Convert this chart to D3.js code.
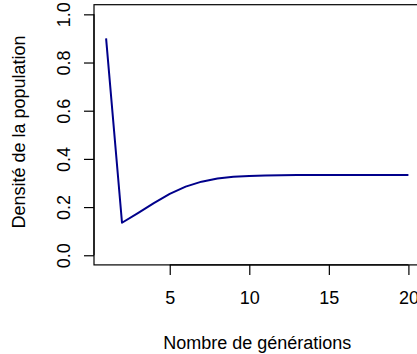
<!DOCTYPE html>
<html>
<head>
<meta charset="utf-8">
<script src="https://cdn.jsdelivr.net/npm/d3@7"></script>
<style>
  html, body { margin: 0; padding: 0; background: #fff; }
  svg { display: block; }
  text { font-family: "Liberation Sans", Arial, Helvetica, sans-serif; fill: #000; }
</style>
</head>
<body>
<svg id="chart" width="417" height="354"></svg>
<script>
// Population density over successive generations
const generations = [1, 2, 3, 4, 5, 6, 7, 8, 9, 10, 11, 12, 13, 14, 15, 16, 17, 18, 19, 20];
const density = [0.9, 0.135, 0.1752, 0.2167, 0.2546, 0.2847, 0.3055, 0.3182, 0.3254, 0.3293,
                 0.3313, 0.3323, 0.3328, 0.3331, 0.3332, 0.3333, 0.3333, 0.3333, 0.3333, 0.3333];
const xTicks = [5, 10, 15, 20];
const yTicks = [0.0, 0.2, 0.4, 0.6, 0.8, 1.0];
const xLabel = "Nombre de générations";
const yLabel = "Densité de la population";

const fontSize = 18;
const svg = d3.select("#chart");
const plot = { left: 94, right: 420.5, top: 4.7, bottom: 264.9 };

// 4% padding on each side of the data range, as in base graphics
const xPad = (20 - 1) * 0.04;
const x = d3.scaleLinear().domain([1 - xPad, 20 + xPad]).range([plot.left, plot.right]);
const y = d3.scaleLinear().domain([-0.04, 1.04]).range([plot.bottom, plot.top]);

// Frame
svg.append("rect")
  .attr("x", plot.left).attr("y", plot.top)
  .attr("width", plot.right - plot.left).attr("height", plot.bottom - plot.top)
  .attr("fill", "none").attr("stroke", "#000").attr("stroke-width", 1.2);

// Data line
const line = d3.line().x((d, i) => x(generations[i])).y(d => y(d));
svg.append("path")
  .datum(density)
  .attr("d", line)
  .attr("fill", "none")
  .attr("stroke", "#00008B")
  .attr("stroke-width", 2)
  .attr("stroke-linejoin", "round");

// Bottom axis
const xAxis = d3.axisBottom(x).tickValues(xTicks).tickSize(10).tickFormat(d3.format("d"));
const gx = svg.append("g").attr("transform", `translate(0,${plot.bottom})`).call(xAxis);
gx.select(".domain").attr("d", `M${x(5)},0H${x(20)}`).attr("stroke-width", 1.2);
gx.selectAll(".tick line").attr("stroke-width", 1.2);
gx.selectAll("text")
  .attr("font-size", fontSize).attr("font-family", null)
  .attr("y", 304 - plot.bottom).attr("dy", null);

// Left axis with rotated labels
const yAxis = d3.axisLeft(y).tickValues(yTicks).tickSize(10).tickFormat(d3.format(".1f"));
const gy = svg.append("g").attr("transform", `translate(${plot.left},0)`).call(yAxis);
gy.select(".domain").attr("d", `M0,${y(0)}V${y(1)}`).attr("stroke-width", 1.2);
gy.selectAll(".tick line").attr("stroke-width", 1.2);
gy.selectAll("text")
  .attr("font-size", fontSize).attr("font-family", null)
  .attr("x", null).attr("dy", null)
  .attr("transform", `translate(${70 - plot.left},0) rotate(-90)`)
  .attr("text-anchor", "middle");

// Axis titles
svg.append("text")
  .attr("x", (plot.left + plot.right) / 2).attr("y", 349)
  .attr("text-anchor", "middle").attr("font-size", fontSize)
  .text(xLabel);
svg.append("text")
  .attr("transform", "translate(25,132) rotate(-90)")
  .attr("text-anchor", "middle").attr("font-size", fontSize)
  .text(yLabel);
</script>
</body>
</html>
